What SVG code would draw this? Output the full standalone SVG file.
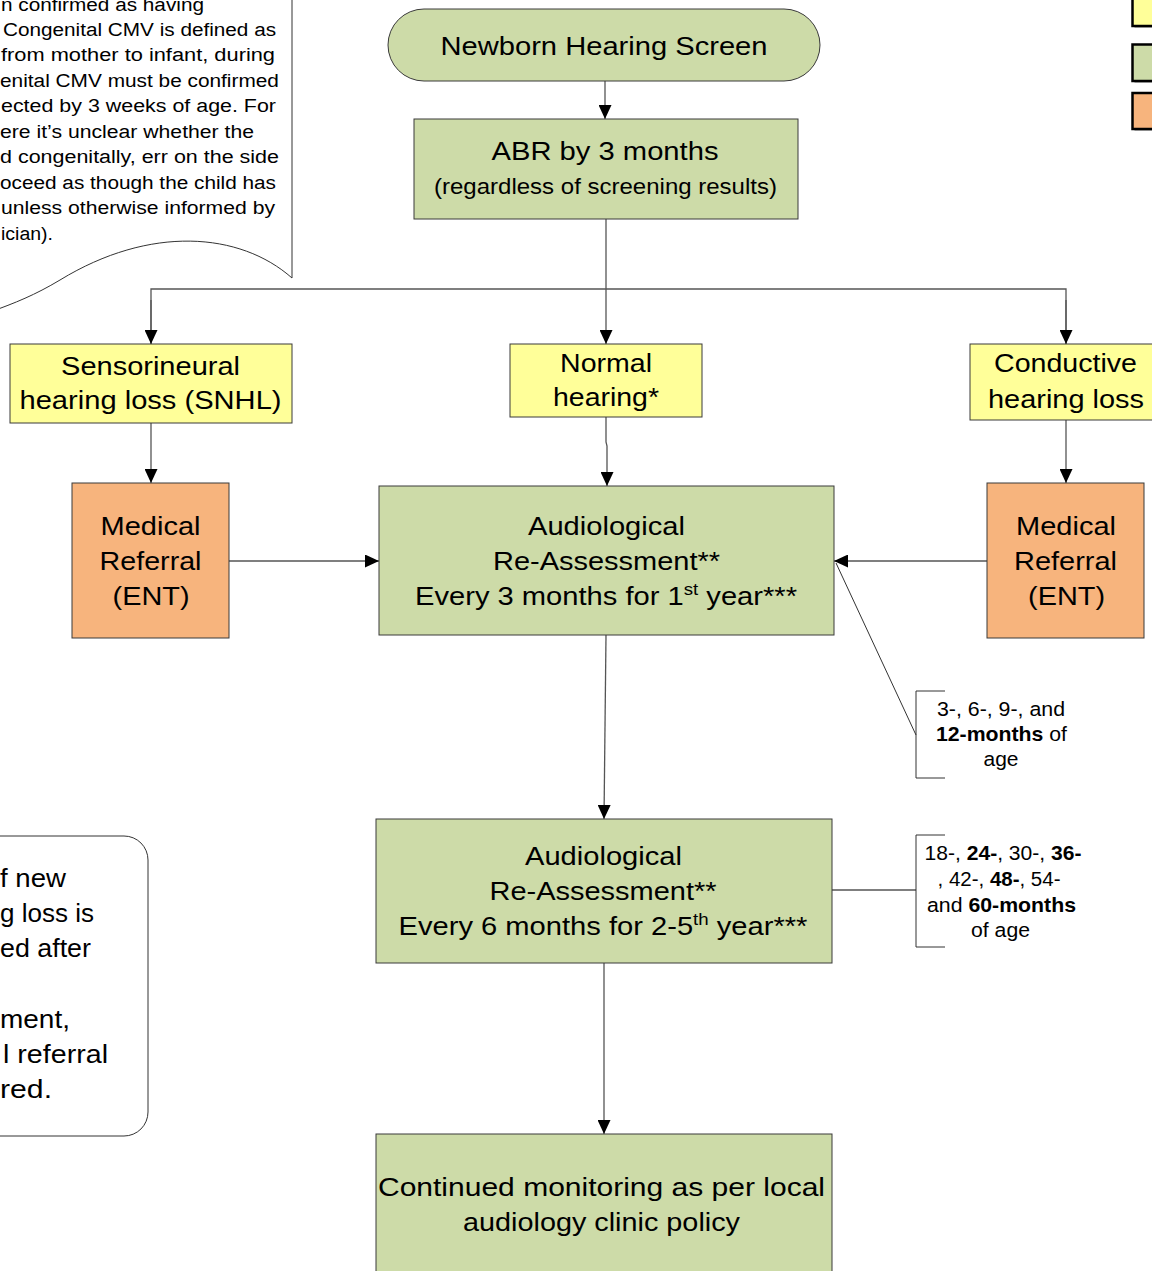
<svg xmlns="http://www.w3.org/2000/svg" width="1152" height="1271" viewBox="0 0 1152 1271">
<defs>
<marker id="ah" viewBox="0 0 14 13" refX="14" refY="6.5" markerWidth="14" markerHeight="13" markerUnits="userSpaceOnUse" orient="auto">
<path d="M0,0 L14,6.5 L0,13 Z" fill="#000"/>
</marker>
<style>
text{font-family:"Liberation Sans",Arial,sans-serif;fill:#000}
.m{font-size:26.5px;text-anchor:middle}
.l{font-size:26.5px;text-anchor:start}
.s{font-size:21.5px;text-anchor:middle}
.n{font-size:18.8px;text-anchor:start}
.a{font-size:19.5px;text-anchor:middle}
.b{font-weight:bold}
.g{fill:#cddba8;stroke:#3a3a3a;stroke-width:1}
.y{fill:#ffff99;stroke:#3a3a3a;stroke-width:1}
.o{fill:#f7b47d;stroke:#3a3a3a;stroke-width:1}
.c{fill:none;stroke:#555;stroke-width:1.3}
.k{fill:none;stroke:#333;stroke-width:1}
.lg{stroke:#000;stroke-width:2.5}
</style>
</defs>
<rect width="1152" height="1271" fill="#fff"/>

<g id="note-top">
<path d="M-10,-10 L292,-10 L292,278 C240,232 150,225 60,280 C35,295 15,303 -10,312 Z" fill="#fff" stroke="#333" stroke-width="1"/>
<text class="n" transform="translate(1 10.5) scale(1.1 1)" textLength="184.5" lengthAdjust="spacingAndGlyphs">n confirmed as having</text>
<text class="n" transform="translate(3 35.7) scale(1.1 1)" textLength="248.2" lengthAdjust="spacingAndGlyphs">Congenital CMV is defined as</text>
<text class="n" transform="translate(1 61.2) scale(1.1 1)" textLength="249.1" lengthAdjust="spacingAndGlyphs">from mother to infant, during</text>
<text class="n" transform="translate(0 86.7) scale(1.1 1)" textLength="253.6" lengthAdjust="spacingAndGlyphs">enital CMV must be confirmed</text>
<text class="n" transform="translate(1 112.2) scale(1.1 1)" textLength="250" lengthAdjust="spacingAndGlyphs">ected by 3 weeks of age. For</text>
<text class="n" transform="translate(0 137.7) scale(1.1 1)" textLength="230.9" lengthAdjust="spacingAndGlyphs">ere it’s unclear whether the</text>
<text class="n" transform="translate(0 163.2) scale(1.1 1)" textLength="253.6" lengthAdjust="spacingAndGlyphs">d congenitally, err on the side</text>
<text class="n" transform="translate(0 188.7) scale(1.1 1)" textLength="250.9" lengthAdjust="spacingAndGlyphs">oceed as though the child has</text>
<text class="n" transform="translate(1 214.2) scale(1.1 1)" textLength="249.1" lengthAdjust="spacingAndGlyphs">unless otherwise informed by</text>
<text class="n" transform="translate(1 239.7) scale(1.1 1)" textLength="47.3" lengthAdjust="spacingAndGlyphs">ician).</text>
</g>

<g id="legend">
<rect x="1134.5" y="-9" width="40" height="37" fill="#bbb"/>
<rect x="1132.5" y="-11" width="40" height="37" fill="#ffff99" class="lg"/>
<rect x="1134.5" y="46.5" width="40" height="36.5" fill="#bbb"/>
<rect x="1132.5" y="44.5" width="40" height="36.5" fill="#cddba8" class="lg"/>
<rect x="1134.5" y="95" width="40" height="36" fill="#bbb"/>
<rect x="1132.5" y="93" width="40" height="36" fill="#f7b47d" class="lg"/>
</g>

<g id="connectors">
<line class="c" x1="605" y1="81" x2="605" y2="119" marker-end="url(#ah)"/>
<line class="c" x1="606" y1="219" x2="606" y2="344" marker-end="url(#ah)"/>
<polyline class="c" points="151,344 151,289 1066,289 1066,344"/>
<line class="c" x1="151" y1="300" x2="151" y2="344" marker-end="url(#ah)"/>
<line class="c" x1="1066" y1="300" x2="1066" y2="344" marker-end="url(#ah)"/>
<line class="c" x1="151" y1="423" x2="151" y2="483" marker-end="url(#ah)"/>
<polyline class="c" points="606,417 606,442 607,446 607,486" marker-end="url(#ah)"/>
<line class="c" x1="1066" y1="420" x2="1066" y2="483" marker-end="url(#ah)"/>
<line class="c" x1="229" y1="561" x2="379" y2="561" marker-end="url(#ah)"/>
<line class="c" x1="987" y1="561" x2="834" y2="561" marker-end="url(#ah)"/>
<line class="c" x1="606" y1="635" x2="604" y2="819" marker-end="url(#ah)"/>
<line class="c" x1="604" y1="963" x2="604" y2="1134" marker-end="url(#ah)"/>
<line class="k" x1="836" y1="563" x2="916" y2="735"/>
<line class="c" x1="832" y1="890" x2="916" y2="890"/>
</g>

<g id="newborn">
<rect class="g" x="388" y="9" width="432" height="72" rx="36"/>
<text class="m" transform="translate(604 55) scale(1.1 1)" textLength="297.3" lengthAdjust="spacingAndGlyphs">Newborn Hearing Screen</text>
</g>

<g id="abr">
<rect class="g" x="414" y="119" width="384" height="100"/>
<text class="m" transform="translate(605 160) scale(1.1 1)" textLength="206.4" lengthAdjust="spacingAndGlyphs">ABR by 3 months</text>
<text class="s" transform="translate(605.5 194) scale(1.1 1)" textLength="311.8" lengthAdjust="spacingAndGlyphs">(regardless of screening results)</text>
</g>

<g id="snhl">
<rect class="y" x="10" y="344" width="282" height="79"/>
<text class="m" transform="translate(150.5 375) scale(1.1 1)" textLength="162.7" lengthAdjust="spacingAndGlyphs">Sensorineural</text>
<text class="m" transform="translate(150.5 409) scale(1.1 1)" textLength="238.2" lengthAdjust="spacingAndGlyphs">hearing loss (SNHL)</text>
</g>

<g id="normal">
<rect class="y" x="510" y="344" width="192" height="73"/>
<text class="m" transform="translate(606 372) scale(1.1 1)" textLength="83.6" lengthAdjust="spacingAndGlyphs">Normal</text>
<text class="m" transform="translate(606 406) scale(1.1 1)" textLength="96.4" lengthAdjust="spacingAndGlyphs">hearing*</text>
</g>

<g id="conductive">
<rect class="y" x="970" y="344" width="194" height="76"/>
<text class="m" transform="translate(1065.5 372) scale(1.1 1)" textLength="130" lengthAdjust="spacingAndGlyphs">Conductive</text>
<text class="m" transform="translate(1066 408) scale(1.1 1)" textLength="141.8" lengthAdjust="spacingAndGlyphs">hearing loss</text>
</g>

<g id="referral-left">
<rect class="o" x="72" y="483" width="157" height="155"/>
<text class="m" transform="translate(150.5 535) scale(1.1 1)" textLength="90.9" lengthAdjust="spacingAndGlyphs">Medical</text>
<text class="m" transform="translate(150.5 570) scale(1.1 1)" textLength="92.7" lengthAdjust="spacingAndGlyphs">Referral</text>
<text class="m" transform="translate(151 605) scale(1.1 1)" textLength="70" lengthAdjust="spacingAndGlyphs">(ENT)</text>
</g>

<g id="referral-right">
<rect class="o" x="987" y="483" width="157" height="155"/>
<text class="m" transform="translate(1066 535) scale(1.1 1)" textLength="90.9" lengthAdjust="spacingAndGlyphs">Medical</text>
<text class="m" transform="translate(1065.5 570) scale(1.1 1)" textLength="93.6" lengthAdjust="spacingAndGlyphs">Referral</text>
<text class="m" transform="translate(1066.5 605) scale(1.1 1)" textLength="70" lengthAdjust="spacingAndGlyphs">(ENT)</text>
</g>

<g id="reassess-1">
<rect class="g" x="379" y="486" width="455" height="149"/>
<text class="m" transform="translate(606.5 535) scale(1.1 1)" textLength="142.7" lengthAdjust="spacingAndGlyphs">Audiological</text>
<text class="m" transform="translate(606.5 570) scale(1.1 1)" textLength="206.4" lengthAdjust="spacingAndGlyphs">Re-Assessment**</text>
<text class="m" transform="translate(606 605) scale(1.1 1)" textLength="347.3" lengthAdjust="spacingAndGlyphs">Every 3 months for 1<tspan font-size="17" dy="-10">st</tspan><tspan dy="10"> year***</tspan></text>
</g>

<g id="reassess-2">
<rect class="g" x="376" y="819" width="456" height="144"/>
<text class="m" transform="translate(603.5 865) scale(1.1 1)" textLength="142.7" lengthAdjust="spacingAndGlyphs">Audiological</text>
<text class="m" transform="translate(603 900) scale(1.1 1)" textLength="206.4" lengthAdjust="spacingAndGlyphs">Re-Assessment**</text>
<text class="m" transform="translate(603 935) scale(1.1 1)" textLength="371.8" lengthAdjust="spacingAndGlyphs">Every 6 months for 2-5<tspan font-size="17" dy="-10">th</tspan><tspan dy="10"> year***</tspan></text>
</g>

<g id="continued">
<rect class="g" x="376" y="1134" width="456" height="150"/>
<text class="m" transform="translate(601.5 1196) scale(1.1 1)" textLength="406.4" lengthAdjust="spacingAndGlyphs">Continued monitoring as per local</text>
<text class="m" transform="translate(601.5 1231) scale(1.1 1)" textLength="251.8" lengthAdjust="spacingAndGlyphs">audiology clinic policy</text>
</g>

<g id="annotation-1">
<polyline class="k" points="945,691 916,691 916,778 945,778"/>
<text class="a" transform="translate(1001 716) scale(1.1 1)" textLength="116.4" lengthAdjust="spacingAndGlyphs">3-, 6-, 9-, and</text>
<text class="a" transform="translate(1001.5 741) scale(1.1 1)" textLength="119.1" lengthAdjust="spacingAndGlyphs"><tspan class="b">12-months</tspan> of</text>
<text class="a" transform="translate(1001 766) scale(1.1 1)" textLength="31.8" lengthAdjust="spacingAndGlyphs">age</text>
</g>

<g id="annotation-2">
<polyline class="k" points="945,835 916,835 916,947 945,947"/>
<text class="a" transform="translate(1003 860) scale(1.1 1)" textLength="142.7" lengthAdjust="spacingAndGlyphs">18-, <tspan class="b">24-</tspan>, 30-, <tspan class="b">36-</tspan></text>
<text class="a" transform="translate(999 886) scale(1.1 1)" textLength="111.8" lengthAdjust="spacingAndGlyphs">, 42-, <tspan class="b">48-</tspan>, 54-</text>
<text class="a" transform="translate(1001.5 912) scale(1.1 1)" textLength="135.5" lengthAdjust="spacingAndGlyphs">and <tspan class="b">60-months</tspan></text>
<text class="a" transform="translate(1000.5 937) scale(1.1 1)" textLength="53.6" lengthAdjust="spacingAndGlyphs">of age</text>
</g>

<g id="note-bottom">
<rect x="-40" y="836" width="188" height="300" rx="24" fill="#fff" stroke="#333" stroke-width="1"/>
<text class="l" transform="translate(0 887) scale(1.1 1)" textLength="60" lengthAdjust="spacingAndGlyphs">f new</text>
<text class="l" transform="translate(0 922) scale(1.1 1)" textLength="85.5" lengthAdjust="spacingAndGlyphs">g loss is</text>
<text class="l" transform="translate(0 957) scale(1.1 1)" textLength="82.7" lengthAdjust="spacingAndGlyphs">ed after</text>
<text class="l" transform="translate(0 1028) scale(1.1 1)" textLength="63.6" lengthAdjust="spacingAndGlyphs">ment,</text>
<text class="l" transform="translate(3 1063) scale(1.1 1)" textLength="95.5" lengthAdjust="spacingAndGlyphs">l referral</text>
<text class="l" transform="translate(0 1098) scale(1.1 1)" textLength="47.3" lengthAdjust="spacingAndGlyphs">red.</text>
</g>
</svg>
